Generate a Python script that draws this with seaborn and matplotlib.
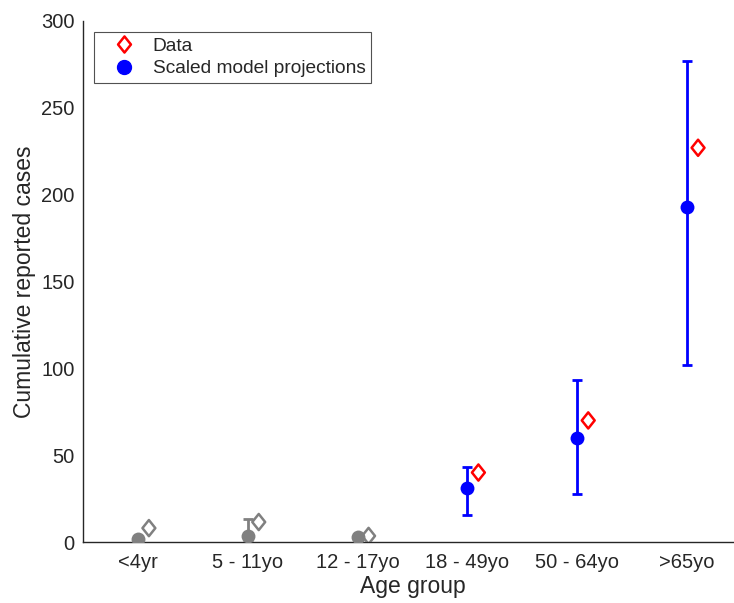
import matplotlib
matplotlib.use("Agg")
import matplotlib.pyplot as plt
from matplotlib.lines import Line2D
from matplotlib.path import Path
import seaborn as sns
import pandas as pd
import numpy as np

groups = ['<4yr', '5 - 11yo', '12 - 17yo', '18 - 49yo', '50 - 64yo', '>65yo']
model = [1.5, 3.2, 3.0, 31, 60, 193]
model_lower = [1.5, 0.0, 3.0, 15.5, 27.5, 102]
model_upper = [1.5, 13.0, 3.0, 43, 93, 277]
observed = [8, 11.5, 3.5, 40, 70, 227]
highlighted = [False, False, False, True, True, True]

sns.set_style("white")
plt.rcParams['font.family'] = ['Liberation Sans', 'DejaVu Sans']

BLUE = (0, 0, 1)
RED = (1, 0, 0)
GREY = (0.5, 0.5, 0.5)
AX = (0.15, 0.15, 0.15)

# MATLAB-like diamond marker (slightly taller than wide)
DIAMOND = Path([(0, 1), (0.8, 0), (0, -1), (-0.8, 0), (0, 1)],
               [Path.MOVETO, Path.LINETO, Path.LINETO, Path.LINETO, Path.CLOSEPOLY])

df = pd.DataFrame({
    'pos': np.arange(1, len(groups) + 1),
    'group': groups,
    'model': model,
    'lo': model_lower,
    'hi': model_upper,
    'data': observed,
    'hl': highlighted,
})
df['dpos'] = df['pos'] + 0.1

fig = plt.figure(figsize=(7.34, 6.03), dpi=100)
ax = fig.add_axes([83 / 734, 61 / 603, 659 / 734, 521 / 603])

for hl, col in [(False, GREY), (True, BLUE)]:
    sub = df[df['hl'] == hl]
    ax.errorbar(sub['pos'], sub['model'],
                yerr=[sub['model'] - sub['lo'], sub['hi'] - sub['model']],
                fmt='none', ecolor=col, elinewidth=2, capsize=3.5, capthick=2, zorder=2)
    sns.scatterplot(data=sub, x='pos', y='model', ax=ax, color=col, marker='o',
                    s=100, edgecolor=col, linewidth=0, zorder=3, legend=False)
    sns.scatterplot(data=sub, x='dpos', y='data', ax=ax, marker=DIAMOND,
                    s=135, facecolors='none', edgecolor=(RED if hl else GREY),
                    linewidth=1.8, zorder=3, legend=False)

ax.set_xlim(0.5, 6.5)
ax.set_ylim(0, 300)
ax.set_xticks(df['pos'])
ax.set_xticklabels(groups)
ax.set_yticks(np.arange(0, 301, 50))
ax.tick_params(axis='both', direction='in', length=6, width=1, colors=AX,
               labelsize=14.5, labelcolor=(0.15, 0.15, 0.15), pad=8)
ax.tick_params(axis='y', pad=6)
ax.set_xlabel('Age group', fontsize=16.5, color=AX, labelpad=2)
ax.set_ylabel('Cumulative reported cases', fontsize=16.5, color=AX, labelpad=4)
for s in ['top', 'right']:
    ax.spines[s].set_visible(False)
for s in ['left', 'bottom']:
    ax.spines[s].set_color(AX)
    ax.spines[s].set_linewidth(1)

handles = [
    Line2D([], [], linestyle='none', marker=DIAMOND, markersize=11.6, markerfacecolor='none',
           markeredgecolor=RED, markeredgewidth=1.8, label='Data'),
    Line2D([], [], linestyle='none', marker='o', markersize=10, markerfacecolor=BLUE,
           markeredgecolor=BLUE, label='Scaled model projections'),
]
leg = ax.legend(handles=handles, loc='upper left', bbox_to_anchor=(0.017, 0.979),
                fontsize=13.8, frameon=True, fancybox=False, borderpad=0.3,
                handlelength=2.5, handletextpad=0.25, labelspacing=0.25,
                borderaxespad=0)
leg.get_frame().set_edgecolor(AX)
leg.get_frame().set_linewidth(0.8)

fig.savefig('out.png', dpi=100)
